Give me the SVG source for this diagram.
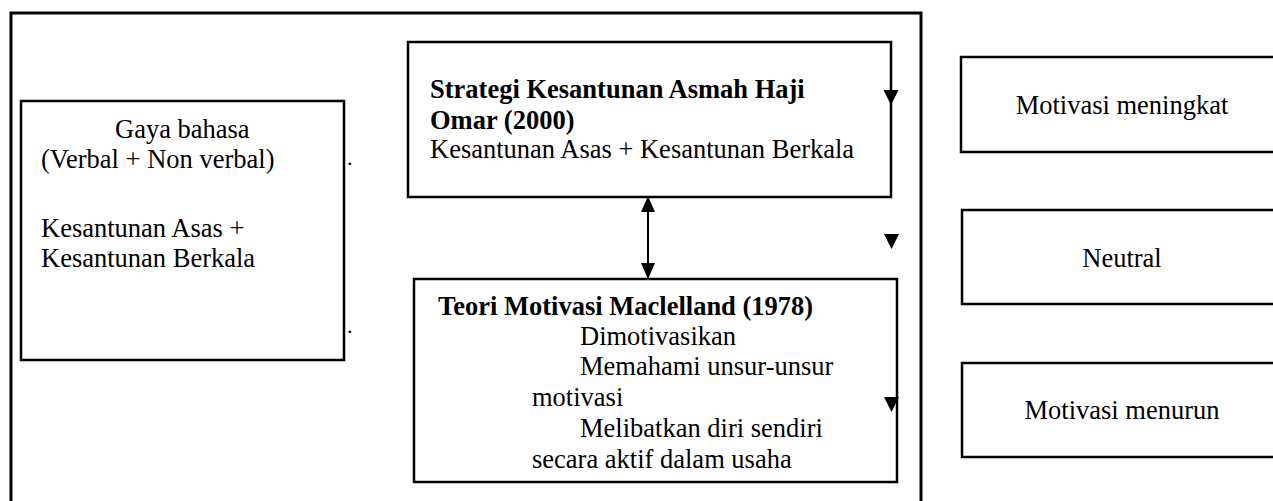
<svg xmlns="http://www.w3.org/2000/svg" width="1273" height="501" viewBox="0 0 1273 501">
  <style>
    .box { fill: #ffffff; stroke: #000000; stroke-width: 2.5; }
    .frame { fill: none; stroke: #000000; stroke-width: 3; }
    .t { font-family: "Liberation Serif", "Times New Roman", serif; font-size: 26.5px; fill: #000000; }
    .b { font-weight: bold; }
    .c { text-anchor: middle; }
    .dot { font-size: 22px; }
    .line { stroke: #000000; stroke-width: 2; fill: none; }
    .head { fill: #000000; }
  </style>
  <defs>
    <marker id="arr" viewBox="0 0 16 14" refX="16" refY="7" markerWidth="16" markerHeight="14" markerUnits="userSpaceOnUse" orient="auto-start-reverse">
      <path d="M0,0 L16,7 L0,14 Z" fill="#000000"/>
    </marker>
    <path id="tri" d="M-7.5,0 L7.5,0 L0,15 Z"/>
  </defs>
  <rect width="1273" height="501" fill="#ffffff"/>

  <g id="frame">
    <path class="frame" d="M11,510 V13 H921 V510"/>
  </g>

  <g id="node-gaya">
    <rect class="box" x="21" y="101" width="323" height="259"/>
    <text class="t" x="115" y="138">Gaya bahasa</text>
    <text class="t" x="41" y="168">(Verbal + Non verbal)</text>
    <text class="t" x="41" y="237">Kesantunan Asas +</text>
    <text class="t" x="41" y="267">Kesantunan Berkala</text>
  </g>

  <g id="node-strategi">
    <rect class="box" x="408" y="42" width="483" height="155"/>
    <text class="t b" x="430" y="98">Strategi Kesantunan Asmah Haji</text>
    <text class="t b" x="430" y="129">Omar (2000)</text>
    <text class="t" x="430" y="158">Kesantunan Asas + Kesantunan Berkala</text>
  </g>

  <g id="node-teori">
    <rect class="box" x="414" y="279" width="483" height="203"/>
    <text class="t b" x="438" y="315">Teori Motivasi Maclelland (1978)</text>
    <text class="t" x="580" y="345">Dimotivasikan</text>
    <text class="t" x="580" y="375">Memahami unsur-unsur</text>
    <text class="t" x="532" y="406">motivasi</text>
    <text class="t" x="580" y="437">Melibatkan diri sendiri</text>
    <text class="t" x="532" y="468">secara aktif dalam usaha</text>
  </g>

  <g id="node-meningkat">
    <rect class="box" x="961" y="57" width="330" height="95"/>
    <text class="t c" x="1122" y="114">Motivasi meningkat</text>
  </g>

  <g id="node-neutral">
    <rect class="box" x="962" y="210" width="330" height="94"/>
    <text class="t c" x="1122" y="267">Neutral</text>
  </g>

  <g id="node-menurun">
    <rect class="box" x="962" y="363" width="330" height="94"/>
    <text class="t c" x="1122" y="419">Motivasi menurun</text>
  </g>

  <g id="dots">
    <text class="t dot" x="347" y="165">.</text>
    <text class="t dot" x="347" y="333">.</text>
  </g>

  <g id="connectors">
    <line class="line" x1="648" y1="196" x2="648" y2="279" marker-start="url(#arr)" marker-end="url(#arr)"/>
    <use class="head" href="#tri" x="891" y="90"/>
    <use class="head" href="#tri" x="891.5" y="234"/>
    <use class="head" href="#tri" x="891.5" y="397"/>
  </g>
</svg>
